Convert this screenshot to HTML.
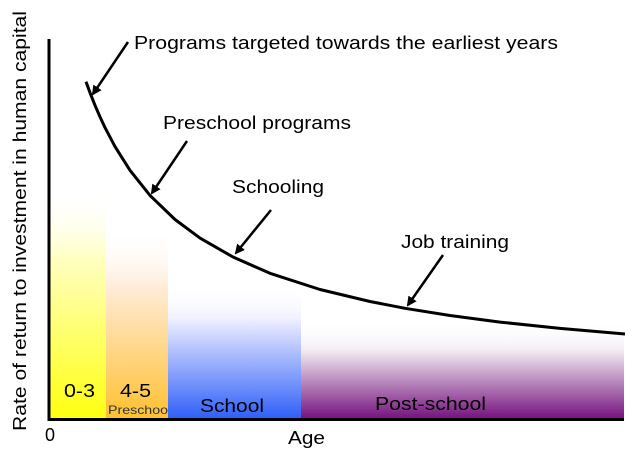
<!DOCTYPE html>
<html><head><meta charset="utf-8"><style>
html,body{margin:0;padding:0;background:#fff;}
svg{display:block;font-family:"Liberation Sans",Arial,sans-serif;}
</style></head><body>
<svg width="640" height="472" viewBox="0 0 640 472" xmlns="http://www.w3.org/2000/svg">
<defs>
<linearGradient id="gy" x1="0" y1="0" x2="0" y2="1"><stop offset="0" stop-color="#fff" stop-opacity="0"/><stop offset="0.3" stop-color="#ffffc0"/><stop offset="1" stop-color="#ffff10"/></linearGradient>
<linearGradient id="go" x1="0" y1="0" x2="0" y2="1"><stop offset="0" stop-color="#fff" stop-opacity="0"/><stop offset="0.3" stop-color="#ffecd8"/><stop offset="1" stop-color="#ffc030"/></linearGradient>
<linearGradient id="gb" x1="0" y1="0" x2="0" y2="1"><stop offset="0" stop-color="#fff" stop-opacity="0"/><stop offset="0.25" stop-color="#f0f0ff"/><stop offset="1" stop-color="#2f5ff8"/></linearGradient>
<linearGradient id="gp" x1="0" y1="0" x2="0" y2="1"><stop offset="0" stop-color="#fff" stop-opacity="0"/><stop offset="0.3" stop-color="#f4eef4"/><stop offset="1" stop-color="#74127e"/></linearGradient>
<marker id="ah" markerWidth="10" markerHeight="10" refX="8" refY="5" orient="auto" markerUnits="userSpaceOnUse"><path d="M0,0 L10,5 L0,10 z" fill="#000"/></marker>
</defs>
<rect x="50" y="190" width="56" height="229" fill="url(#gy)"/>
<rect x="106" y="230" width="62" height="189" fill="url(#go)"/>
<rect x="168" y="285" width="133" height="134" fill="url(#gb)"/>
<rect x="301" y="320" width="323" height="99" fill="url(#gp)"/>
<line x1="49" y1="39" x2="49" y2="421" stroke="#000" stroke-width="3"/>
<line x1="48" y1="419.5" x2="624" y2="419.5" stroke="#000" stroke-width="3"/>
<polyline points="86,81.7 90,92.7 95,105.3 100,116.9 105,127.6 115,146.6 130,170.3 150,195.4 175,219.5 200,238.1 233,257 270,273.3 320,289.5 370,301.5 405,308.3 450,315.5 500,322.1 560,328.4 625,334" fill="none" stroke="#000" stroke-width="3" stroke-linejoin="round"/>
<g stroke="#000" stroke-width="2.5" marker-end="url(#ah)">
<line x1="128" y1="42" x2="93" y2="94"/>
<line x1="187" y1="141" x2="152" y2="193"/>
<line x1="271" y1="210" x2="236" y2="253"/>
<line x1="443" y1="255" x2="408" y2="305"/>
</g>
<g font-size="18" fill="#000">
<text x="134" y="49" textLength="424" lengthAdjust="spacingAndGlyphs">Programs targeted towards the earliest years</text>
<text x="163" y="129" textLength="188" lengthAdjust="spacingAndGlyphs">Preschool programs</text>
<text x="232" y="193" textLength="92" lengthAdjust="spacingAndGlyphs">Schooling</text>
<text x="401" y="248" textLength="108" lengthAdjust="spacingAndGlyphs">Job training</text>
<text x="64" y="397" textLength="31" lengthAdjust="spacingAndGlyphs">0-3</text>
<text x="120" y="397" textLength="31" lengthAdjust="spacingAndGlyphs">4-5</text>
<text x="200" y="412" textLength="64" lengthAdjust="spacingAndGlyphs">School</text>
<text x="375" y="410" textLength="111" lengthAdjust="spacingAndGlyphs">Post-school</text>
<text x="45" y="441">0</text>
<text x="288" y="444" textLength="37" lengthAdjust="spacingAndGlyphs">Age</text>
<text transform="translate(26,221) rotate(-90)" text-anchor="middle" textLength="420" lengthAdjust="spacingAndGlyphs">Rate of return to investment in human capital</text>
</g>
<text x="108" y="414" font-size="12" fill="#333" textLength="60" lengthAdjust="spacingAndGlyphs">Preschoo</text>
</svg>
</body></html>
